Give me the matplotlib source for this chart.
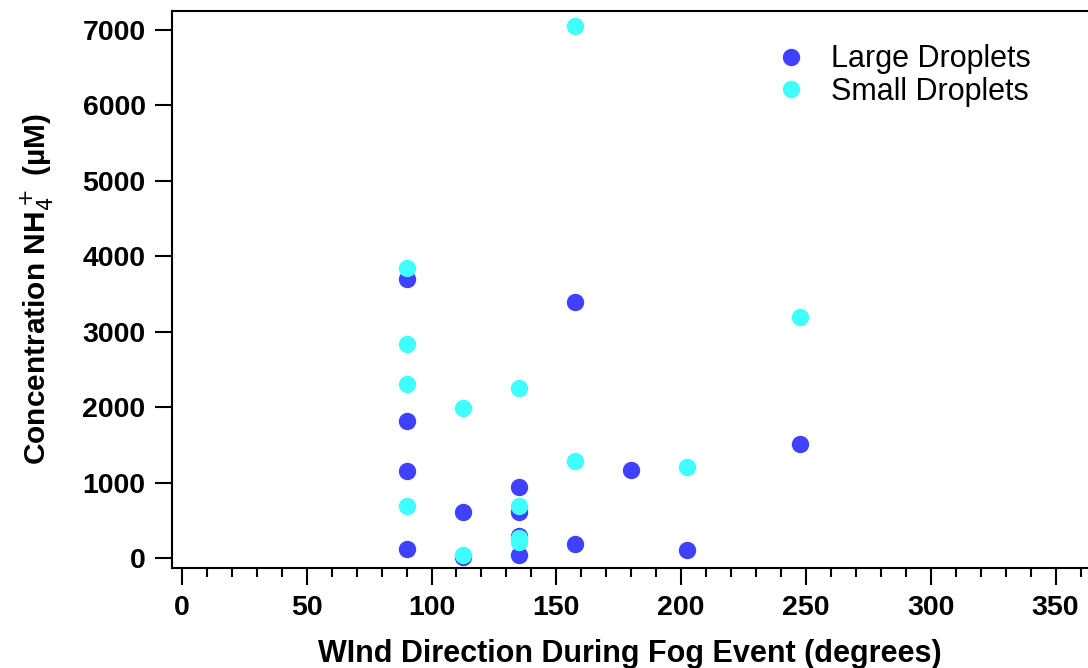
import matplotlib.pyplot as plt
from matplotlib.ticker import MultipleLocator

plt.rcParams['font.family'] = ['Liberation Sans', 'DejaVu Sans']

# wind direction (degrees) and NH4+ concentration (uM)
large_dir = [90, 90, 90, 90, 112.5, 112.5, 135, 135, 135, 135, 157.5, 157.5, 180, 202.5, 247.5]
large_conc = [3700, 1825, 1150, 120, 608, 15, 950, 610, 290, 40, 3390, 185, 1165, 105, 1510]

small_dir = [90, 90, 90, 90, 112.5, 112.5, 135, 135, 135, 135, 157.5, 157.5, 202.5, 247.5]
small_conc = [3850, 2845, 2315, 690, 1985, 50, 2250, 690, 265, 210, 7050, 1285, 1215, 3190]

fig = plt.figure(figsize=(10.88, 6.68), dpi=100)
ax = fig.add_axes([0.158, 0.149, 0.842, 0.8345])

ax.plot(large_dir, large_conc, 'o', color='#4040ff', markersize=11.5, label='Large Droplets')
ax.plot(small_dir, small_conc, 'o', color='#40ffff', markersize=11.5, label='Small Droplets')

ax.set_xlim(-4, 363)
ax.set_ylim(-135, 7250)
ax.xaxis.set_major_locator(MultipleLocator(50))
ax.xaxis.set_minor_locator(MultipleLocator(10))
ax.yaxis.set_major_locator(MultipleLocator(1000))

ax.spines['right'].set_visible(False)
for s in ['left', 'top', 'bottom']:
    ax.spines[s].set_linewidth(1.5)

ax.tick_params(axis='both', which='major', direction='out', length=12, width=1.5, labelsize=20.5, pad=7)
ax.tick_params(axis='x', which='minor', direction='out', length=6.5, width=1.5)
for lab in ax.get_xticklabels() + ax.get_yticklabels():
    lab.set_fontweight('bold')

ax.set_xlabel('WInd Direction During Fog Event (degrees)', fontsize=22, fontweight='bold', labelpad=13)
ax.set_ylabel('Concentration NH$_4^+$ (\u00b5M)', fontsize=21.5, fontweight='bold', labelpad=19)

leg = ax.legend(loc='upper right', bbox_to_anchor=(0.937, 0.94), frameon=False, fontsize=22,
                handlelength=1.0, handletextpad=0.8, labelspacing=0.08,
                borderpad=0, borderaxespad=0)

plt.savefig('out.png', dpi=100)
